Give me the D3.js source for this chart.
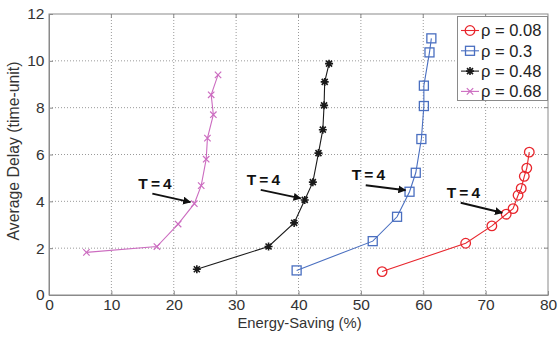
<!DOCTYPE html>
<html>
<head>
<meta charset="utf-8">
<script src="https://cdn.jsdelivr.net/npm/d3@7"></script>
<style>
  html, body { margin: 0; padding: 0; background: #fff; }
  svg { display: block; font-family: "Liberation Sans", Arial, sans-serif; }
</style>
</head>
<body>
<svg id="chart" width="558" height="338"></svg>
<script>
// ---- data ----
const seriesNames = ["ρ = 0.08", "ρ = 0.3", "ρ = 0.48", "ρ = 0.68"];
const rho008 = [[53.4,1.0],[66.8,2.21],[71.0,2.95],[73.3,3.45],[74.4,3.69],[75.2,4.26],[75.7,4.55],[76.2,5.07],[76.6,5.42],[77.0,6.1]];
const rho03  = [[39.7,1.05],[51.9,2.3],[55.8,3.34],[57.8,4.41],[58.8,5.22],[59.7,6.66],[60.1,8.07],[60.1,8.94],[61.0,10.36],[61.3,10.96]];
const rho048 = [[23.7,1.1],[35.2,2.07],[39.3,3.08],[41.0,4.06],[42.3,4.82],[43.2,6.06],[43.9,7.06],[44.1,8.1],[44.2,9.1],[44.9,9.88]];
const rho068 = [[6.0,1.82],[17.3,2.07],[20.7,3.03],[23.3,3.9],[24.4,4.67],[25.2,5.8],[25.4,6.7],[26.35,7.7],[26.0,8.55],[27.1,9.4]];
const xTicks = [0,10,20,30,40,50,60,70,80];
const yTicks = [0,2,4,6,8,10,12];
const xLabel = "Energy-Saving (%)";
const yLabel = "Average Delay (time-unit)";
const annotLabel = "T = 4";
// index of the T = 4 point in each series
const annotIndex = 3;

const colors = ["#e8262d", "#4a6fc0", "#1a1a1a", "#cc6cc0"];
const markers = ["circle", "square", "star", "cross"];
const allSeries = [rho008, rho03, rho048, rho068];

// ---- layout ----
const svg = d3.select("#chart");
const L = 49, R = 548, T = 14, B = 295;
const x = d3.scaleLinear().domain([0, 80]).range([L, R]);
const y = d3.scaleLinear().domain([0, 12]).range([B, T]);

// grid
const grid = svg.append("g");
grid.selectAll("line.vx").data(xTicks.slice(1, -1)).enter().append("line")
  .attr("x1", d => x(d)).attr("x2", d => x(d)).attr("y1", T).attr("y2", B)
  .attr("stroke", "#9a9a9a").attr("stroke-width", 1).attr("stroke-dasharray", "1,2");
grid.selectAll("line.hy").data(yTicks.slice(1, -1)).enter().append("line")
  .attr("y1", d => y(d)).attr("y2", d => y(d)).attr("x1", L).attr("x2", R)
  .attr("stroke", "#9a9a9a").attr("stroke-width", 1).attr("stroke-dasharray", "1,2");

// axes (matlab-style box with inward ticks)
const xAxis = d3.axisBottom(x).tickValues(xTicks).tickSizeInner(-4).tickSizeOuter(0).tickPadding(4);
const yAxis = d3.axisLeft(y).tickValues(yTicks).tickSizeInner(-4).tickSizeOuter(0).tickPadding(4.5);
const gx = svg.append("g").attr("transform", `translate(0,${B})`).call(xAxis);
const gy = svg.append("g").attr("transform", `translate(${L},0)`).call(yAxis);
[gx, gy].forEach(g => {
  g.select(".domain").attr("stroke", "#8a8a8a");
  g.selectAll(".tick line").attr("stroke", "#8a8a8a");
  g.selectAll(".tick text").attr("fill", "#333").style("font-size", "15.5px")
    .style("font-family", "'Liberation Sans', Arial, sans-serif");
});
// box top/right
svg.append("rect").attr("x", L).attr("y", T).attr("width", R - L).attr("height", B - T)
  .attr("fill", "none").attr("stroke", "#8a8a8a").attr("stroke-width", 1);
// top/right inward ticks
svg.append("g").selectAll("line").data(xTicks.slice(1, -1)).enter().append("line")
  .attr("x1", d => x(d)).attr("x2", d => x(d)).attr("y1", T).attr("y2", T + 4).attr("stroke", "#8a8a8a");
svg.append("g").selectAll("line").data(yTicks.slice(1, -1)).enter().append("line")
  .attr("y1", d => y(d)).attr("y2", d => y(d)).attr("x1", R).attr("x2", R - 4).attr("stroke", "#8a8a8a");

// axis labels
svg.append("text").attr("x", (L + R) / 2 + 1).attr("y", 328)
  .attr("text-anchor", "middle").style("font-size", "14.8px").attr("fill", "#333").text(xLabel);
svg.append("text").attr("transform", `translate(19,151) rotate(-90)`)
  .attr("text-anchor", "middle").style("font-size", "15.8px").attr("fill", "#333").text(yLabel);

// marker drawing
function drawMarker(g, type, color) {
  if (type === "circle") {
    g.append("circle").attr("r", 4.8).attr("fill", "none").attr("stroke", color).attr("stroke-width", 1.3);
  } else if (type === "square") {
    g.append("rect").attr("x", -4.5).attr("y", -4.5).attr("width", 9).attr("height", 9)
      .attr("fill", "none").attr("stroke", color).attr("stroke-width", 1.3);
  } else if (type === "star") {
    const s = 4;
    g.append("path").attr("d", `M${-s},0L${s},0M0,${-s}L0,${s}M${-s*0.75},${-s*0.75}L${s*0.75},${s*0.75}M${-s*0.75},${s*0.75}L${s*0.75},${-s*0.75}`)
      .attr("stroke", color).attr("stroke-width", 1.6).attr("fill", "none");
  } else if (type === "cross") {
    const s = 3.2;
    g.append("path").attr("d", `M${-s},${-s}L${s},${s}M${-s},${s}L${s},${-s}`)
      .attr("stroke", color).attr("stroke-width", 1.2).attr("fill", "none");
  }
}

// series
const line = d3.line().x(d => x(d[0])).y(d => y(d[1]));
allSeries.forEach((data, i) => {
  const g = svg.append("g");
  g.append("path").datum(data).attr("d", line).attr("fill", "none")
    .attr("stroke", colors[i]).attr("stroke-width", 1.1);
  data.forEach(d => {
    const m = g.append("g").attr("transform", `translate(${x(d[0])},${y(d[1])})`);
    drawMarker(m, markers[i], colors[i]);
  });
});

// annotations "T = 4" with arrows
const defs = svg.append("defs");
defs.append("marker").attr("id", "arrow").attr("viewBox", "0 0 10 10")
  .attr("refX", 9).attr("refY", 5).attr("markerWidth", 4.2).attr("markerHeight", 4.2)
  .attr("markerUnits", "strokeWidth").attr("orient", "auto")
  .append("path").attr("d", "M0,0L10,5L0,10Z").attr("fill", "#111");

// text offset (label position relative to target point, in px)
const annotTextDx = [-59.5, -57.8, -58, -56];
const annotTextDy = [-16.5, -11.5, -15, -15];
allSeries.forEach((data, i) => {
  const p = data[annotIndex];
  const px = x(p[0]), py = y(p[1]);
  const tx = px + annotTextDx[i], ty = py + annotTextDy[i];
  svg.append("text").attr("x", tx).attr("y", ty).attr("text-anchor", "start")
    .style("font-size", "15.5px").style("font-weight", "bold").style("letter-spacing", "-0.6px")
    .attr("fill", "#111").text(annotLabel);
  svg.append("line")
    .attr("x1", tx + 14).attr("y1", ty + 5)
    .attr("x2", px - 4).attr("y2", py - 1.5)
    .attr("stroke", "#111").attr("stroke-width", 1.9)
    .attr("marker-end", "url(#arrow)");
});

// legend
const lg = svg.append("g");
lg.append("rect").attr("x", 457.5).attr("y", 16.5).attr("width", 90).attr("height", 84)
  .attr("fill", "#fff").attr("stroke", "#8a8a8a").attr("stroke-width", 1);
seriesNames.forEach((name, i) => {
  const yy = 30.5 + i * 20.3;
  lg.append("line").attr("x1", 461).attr("x2", 479).attr("y1", yy).attr("y2", yy)
    .attr("stroke", colors[i]).attr("stroke-width", 1.1);
  drawMarker(lg.append("g").attr("transform", `translate(470,${yy})`), markers[i], colors[i]);
  lg.append("text").attr("x", 481).attr("y", yy).attr("dy", "0.36em")
    .style("font-size", "16.5px").attr("fill", "#222").text(name);
});
</script>
</body>
</html>
